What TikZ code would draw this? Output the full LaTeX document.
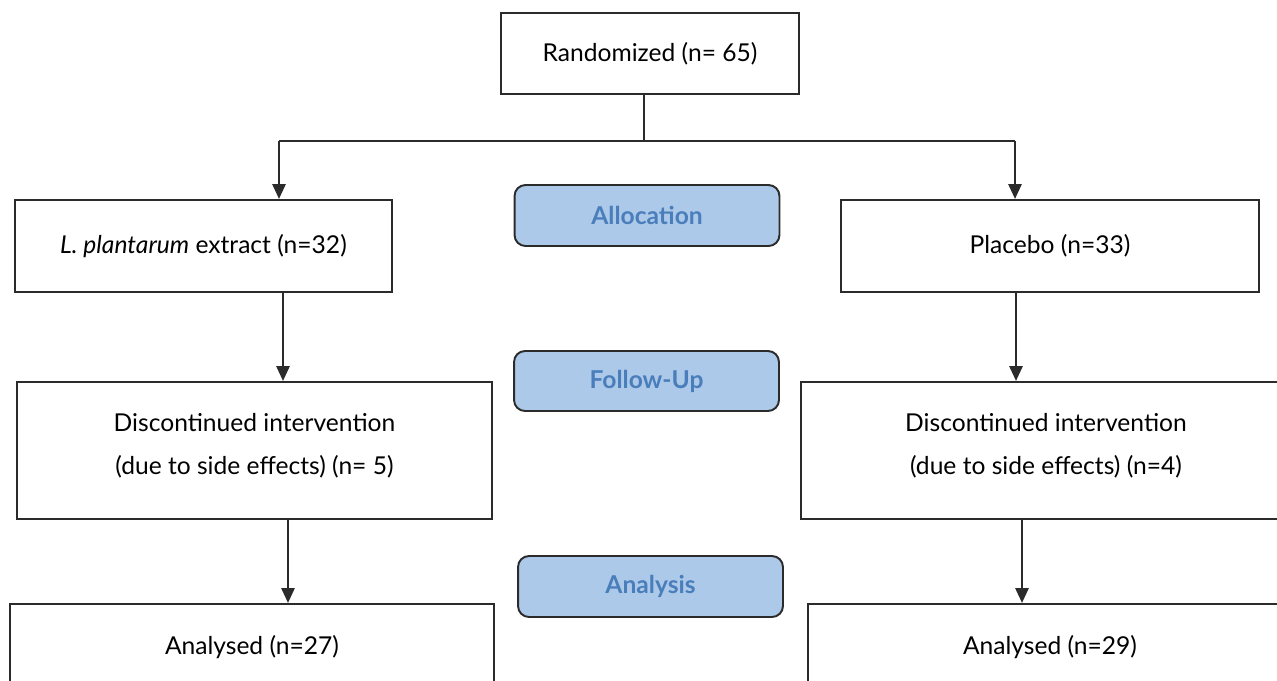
\documentclass[tikz,border=0pt]{standalone}
\usepackage{fontspec}
\setmainfont{Lato}
\usetikzlibrary{arrows.meta}
\definecolor{stagefill}{HTML}{ADC9E9}
\definecolor{stagetext}{HTML}{4A7EBB}
\definecolor{boxline}{HTML}{2B2B2B}
\tikzset{
  box/.style={draw=boxline,line width=1.1pt,fill=white,inner sep=0pt,font=\fontsize{14}{24.5}\selectfont,align=center},
  stage/.style={draw=boxline,line width=1.1pt,fill=stagefill,rounded corners=0.22cm,
    text=stagetext,font=\fontsize{14}{16}\selectfont\bfseries,
    minimum width=5.3cm,minimum height=1.22cm,inner sep=0pt},
  flow/.style={line width=1.6pt,draw=boxline},
  arr/.style={flow,-{Triangle[length=0.3cm,width=0.26cm]}}
}
\begin{document}
\begin{tikzpicture}[x=0.02cm,y=-0.02cm]
\useasboundingbox (0,0) rectangle (1277,680);
% boxes
\node[box,minimum width=5.96cm,minimum height=1.62cm] (rand) at (650,53.5) {Randomized (n= 65)};
\node[box,minimum width=7.54cm,minimum height=1.84cm] (lab) at (203.5,246) {\textit{L. plantarum} extract (n=32)};
\node[box,minimum width=8.36cm,minimum height=1.84cm] (plac) at (1050,246) {Placebo (n=33)};
\node[box,minimum width=9.5cm,minimum height=2.74cm,text depth=0.25cm] (disl) at (254.5,450.5) {Discontinued intervention\\(due to side effects) (n= 5)};
\node[box,minimum width=9.8cm,minimum height=2.74cm,text depth=0.25cm] (disr) at (1046,450.5) {Discontinued intervention\\(due to side effects) (n=4)};
\node[box,minimum width=9.68cm,minimum height=1.72cm] (anal) at (252,647) {Analysed (n=27)};
\node[box,minimum width=9.7cm,minimum height=1.72cm] (anar) at (1050,647) {Analysed (n=29)};
% stages
\node[stage] (alloc) at (647,215.5) {Allocation};
\node[stage,minimum height=1.2cm] (follow) at (646.5,381) {Follow-Up};
\node[stage] (analysis) at (650.5,586.5) {Analysis};
% connectors
\coordinate (split) at (644,141);
\coordinate (colL) at (279,141);
\coordinate (colR) at (1015,141);
\coordinate (colLb) at (283,0);
\coordinate (colRb) at (1016,0);
\coordinate (colLc) at (288,0);
\coordinate (colRc) at (1022,0);
\draw[flow] (rand.south -| split) -- (split);
\draw[flow] (colL) -- (colR);
\draw[arr] (colL) -- (colL |- lab.north);
\draw[arr] (colR) -- (colR |- plac.north);
\draw[arr] (lab.south -| colLb) -- (disl.north -| colLb);
\draw[arr] (plac.south -| colRb) -- (disr.north -| colRb);
\draw[arr] (disl.south -| colLc) -- (anal.north -| colLc);
\draw[arr] (disr.south -| colRc) -- (anar.north -| colRc);
\end{tikzpicture}
\end{document}
